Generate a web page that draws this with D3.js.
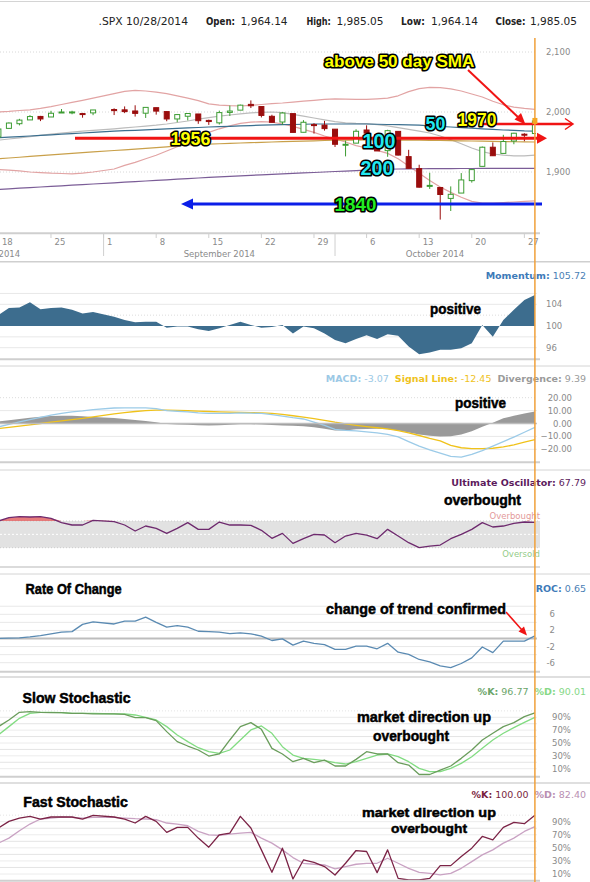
<!DOCTYPE html>
<html><head><meta charset="utf-8"><title>SPX</title>
<script src="https://cdn.jsdelivr.net/npm/d3@7/dist/d3.min.js"></script>
<style>html,body{margin:0;padding:0;background:#fff;}svg{display:block;} text{white-space:pre;}</style>
</head><body>
<svg id="chart" width="590" height="882"></svg>
<script>
// ---------------- DATA ----------------
const days = [
"2014-08-18","2014-08-19","2014-08-20","2014-08-21","2014-08-22",
"2014-08-25","2014-08-26","2014-08-27","2014-08-28","2014-08-29",
"2014-09-02","2014-09-03","2014-09-04","2014-09-05",
"2014-09-08","2014-09-09","2014-09-10","2014-09-11","2014-09-12",
"2014-09-15","2014-09-16","2014-09-17","2014-09-18","2014-09-19",
"2014-09-22","2014-09-23","2014-09-24","2014-09-25","2014-09-26",
"2014-09-29","2014-09-30","2014-10-01","2014-10-02","2014-10-03",
"2014-10-06","2014-10-07","2014-10-08","2014-10-09","2014-10-10",
"2014-10-13","2014-10-14","2014-10-15","2014-10-16","2014-10-17",
"2014-10-20","2014-10-21","2014-10-22","2014-10-23","2014-10-24",
"2014-10-27","2014-10-28"];
const open  = [1958.4,1972.7,1980.5,1986.8,1992.6,1991.7,1998.6,2000.0,1997.4,1998.5,
 2004.1,2003.6,2001.7,1998.0,2007.2,2000.7,1988.4,1992.9,1996.7,1986.0,
 1981.9,1999.3,2003.1,2012.7,2009.1,1992.8,1983.3,1997.3,1966.2,1979.0,
 1978.2,1971.4,1945.8,1948.1,1970.0,1962.4,1935.6,1967.7,1925.6,1905.7,
 1877.1,1874.2,1856.0,1864.9,1885.6,1909.4,1941.3,1931.0,1951.6,1963.0,1964.1];
const high  = [1972.0,1982.6,1988.6,1994.8,1993.5,2002.0,2005.0,2002.1,1998.6,2003.4,
 2006.1,2009.3,2011.2,2007.7,2007.2,2001.0,1996.7,1997.7,1996.7,1987.2,
 2002.3,2010.7,2012.3,2019.3,2009.1,1995.4,1999.8,1997.3,1986.4,1981.3,
 1985.2,1971.4,1952.3,1971.2,1977.8,1962.4,1970.4,1967.7,1937.0,1912.1,
 1898.7,1874.2,1876.0,1898.2,1905.0,1942.5,1949.3,1962.0,1965.3,1964.6,1985.1];
const low   = [1958.4,1972.7,1977.7,1986.8,1984.8,1991.7,1998.6,1996.2,1990.5,1994.7,
 1994.9,1998.1,1992.4,1990.1,1995.6,1984.6,1983.0,1985.9,1980.3,1978.5,
 1979.1,1993.3,2003.1,2006.6,1991.0,1982.8,1978.6,1966.0,1966.2,1964.0,
 1969.0,1941.7,1926.0,1948.1,1958.4,1935.1,1925.3,1927.6,1906.1,1874.1,
 1871.8,1820.7,1835.0,1864.9,1882.3,1909.4,1926.8,1931.0,1946.3,1951.4,1964.1];
const close = [1971.7,1981.6,1986.5,1992.4,1988.4,1997.9,2000.0,2000.1,1996.7,2003.4,
 2002.3,2000.7,1997.7,2007.7,2001.5,1988.4,1995.7,1997.5,1985.5,1984.1,
 1999.0,2001.6,2011.4,2010.4,1994.3,1982.8,1998.3,1966.0,1982.9,1977.8,
 1972.3,1946.2,1946.2,1967.9,1964.8,1935.1,1968.9,1928.2,1906.1,1874.7,
 1877.7,1862.5,1862.8,1886.8,1904.0,1941.3,1927.1,1950.8,1964.6,1961.6,1985.1];

const upperBand  = [2000,2001,2002.5,2003.5,2006,2009,2012.5,2016,2019.5,2023,
 2030.5,2034.5,2036,2035,2033,2030.5,2027,2023,2019,2013.5,
 2011.5,2010.5,2010,2011,2012.5,2014,2015,2016.5,2018,2019.5,
 2021,2022,2021.5,2021,2021,2022,2023,2027,2034,2039,
 2041,2040.5,2038.5,2035,2030,2025,2018,2012,2008,2006,2004.5];
const middleBand = [1953,1955,1957,1959,1961,1963,1965,1966.5,1968,1969.5,
 1972,1973.5,1975,1976.5,1978,1980,1982.5,1985,1988,1990.5,
 1993,1995,1997,1998.5,1999.5,2000,1999,1996,1993,1990,
 1987,1984,1982,1981,1980.5,1979,1977,1974,1971,1968,
 1965,1960,1954,1947,1940,1934,1930,1928,1927,1927,1928];
const lowerBand  = [1904,1903,1902,1900,1899,1898,1897.5,1897,1898,1900,
 1905,1911,1916,1922,1928,1935,1942,1950,1958,1966,
 1972,1977,1981,1983,1984,1983,1980,1976,1971,1966,
 1960,1955,1950,1944,1940,1936,1931,1922,1910,1898,
 1886,1875,1866,1858,1851,1848,1848,1849,1850,1851,1852];
const sma50  = [1957,1958,1959,1960,1961,1962,1963,1964,1965,1966,
 1968,1968.8,1969.5,1970.2,1971,1971.8,1972.6,1973.4,1974.2,1975,
 1975.6,1976.2,1976.8,1977.4,1978,1978.4,1978.8,1979.2,1979.6,1980,
 1980,1980,1980,1980,1980,1979.6,1979.2,1978.8,1978.4,1978,
 1977,1976,1975,1974,1973,1972,1971,1970,1969.5,1968.5,1968];
const sma100 = [1922,1923.3,1924.6,1925.9,1927.2,1928.5,1929.8,1931,1932.3,1933.5,
 1935.8,1937,1938.2,1939.3,1940.5,1942,1943.5,1945,1945.8,1946.5,
 1947.1,1947.7,1948.3,1948.9,1949.5,1950,1950.5,1951,1951.5,1952,
 1952.5,1953,1953,1953.2,1953.3,1953.3,1953.2,1953,1953,1953,
 1952.8,1952.5,1952.2,1952,1951.7,1951.4,1951,1950.7,1950.4,1950.2,1950];
const sma200 = [1871,1872,1873,1874,1875,1876,1877,1878,1879,1880,
 1882,1883,1884,1885,1886,1887,1888,1889,1890,1891,
 1892,1892.8,1893.6,1894.4,1895.2,1896,1896.8,1897.6,1898.4,1899.2,
 1900,1900.8,1901.6,1902.4,1903.2,1904,1904.6,1905,1905.2,1905.4,
 1905.5,1905.6,1905.7,1905.8,1905.8,1905.9,1905.9,1906,1906,1906,1906];

const momentum = [102.0,103.3,103.4,104.4,103.1,103.3,103.4,103.0,102.3,102.6,
 101.7,101.1,100.7,100.8,100.8,99.7,99.9,99.9,99.4,99.1,
 99.6,100.2,100.8,100.2,99.7,99.8,100.2,98.6,99.9,99.6,
 98.6,97.4,96.8,97.6,98.3,97.6,98.5,98.2,96.2,94.8,
 95.1,95.6,95.6,95.9,96.8,100.2,98.0,101.1,103.0,104.8,105.72];
const macd = [-2.6,-0.6,1.3,3.0,4.7,6.5,7.8,9.0,9.8,10.8,
 12.0,12.1,12.1,12.1,11.5,10.0,9.5,9.0,8.2,7.8,
 7.8,7.9,8.3,8.0,7.8,6.8,5.7,4.5,3.5,1.0,
 -1.5,-4.5,-5.3,-5.7,-6.5,-7.2,-8.5,-10.3,-14.0,-17.5,
 -20.5,-23.0,-25.5,-26.0,-24.0,-21.0,-17.5,-14.0,-10.5,-6.8,-3.07];
const signalLine = [-3.9,-3.0,-2.0,-1.0,0.0,1.0,2.0,3.0,4.0,5.2,
 7.5,8.5,9.3,10.0,10.3,10.3,10.2,9.9,9.6,9.3,
 9.0,8.8,8.6,8.4,8.3,7.8,7.0,6.0,5.0,3.8,
 2.5,1.0,-0.3,-1.4,-2.4,-3.3,-4.2,-5.5,-7.2,-9.3,
 -11.5,-13.5,-17.0,-18.8,-19.4,-19.4,-19.2,-18.2,-16.5,-14.5,-12.45];
const divergence = [1.5,2.5,3.5,4.5,5.3,5.8,6.0,6.0,5.6,5.0,
 4.2,3.4,2.7,2.0,1.0,-0.3,-0.7,-0.9,-1.4,-1.6,
 -1.4,-1.0,-0.5,-0.6,-0.8,-1.2,-1.5,-1.8,-2.2,-3.0,
 -4.0,-5.5,-5.5,-4.5,-4.2,-4.0,-4.5,-5.5,-7.0,-8.5,
 -9.5,-10.0,-9.8,-8.5,-6.0,-2.5,0.5,4.0,6.0,7.8,9.39];
const ultimate = [70,75,76.5,76,76.5,74,67.5,64,64,71,
 69,64,55,62.5,59,51.5,59,67.5,57.5,57.5,
 68.5,64,64,63.5,56,44,51.5,36.5,43.5,50,
 49,37.5,47.5,51.5,49,43.5,57.5,47.5,37.5,30,
 32.5,34,43.5,50,57.5,67.5,61,62.5,66.5,68.5,67.79];
const roc = [0,0.1,0.16,0.4,0.7,1.15,1.56,1.7,3.5,4.1,
 3.6,4.3,4.3,5.3,4.0,2.8,3.2,2.8,1.8,1.7,
 1.56,1.2,1.4,1.15,0.6,-0.5,-0.1,-1.65,-0.66,-1.2,
 -1.5,-2.7,-2.7,-1.9,-1.9,-2.55,-1.2,-3.4,-3.95,-5.2,
 -5.8,-6.8,-7.2,-6.2,-4.8,-2.1,-3.5,-0.66,-0.66,-0.66,0.65];
const slowK = [75.5,85.8,97.8,98.8,97.8,97.3,97.3,96.2,96.2,95.2,
 95.2,94.7,89.5,89.5,84.8,67.7,52.1,45.3,39.1,29.7,
 32.9,54.7,75.5,81.7,71.3,41.7,32.9,20.9,26.1,19.4,
 23.5,14.2,14.2,24.5,36.5,32.9,32.9,19.4,15.7,1.0,
 1.0,7.9,14.2,26.1,39.1,54.7,65.1,75.5,81.7,91.0,96.77];
const slowD = [62.5,75.5,88.4,96.2,97.8,97.8,97.3,96.2,96.2,96.2,
 95.2,95.2,93.6,90.0,85.8,75.5,62.5,52.1,42.7,36.5,
 33.9,39.1,54.7,70.3,76.5,65.1,44.3,31.3,26.1,24.5,
 22.5,19.4,17.3,20.9,26.1,31.3,32.9,28.7,20.9,10.5,
 5.3,5.3,10.5,18.3,28.7,41.7,54.7,65.1,73.9,82.2,90.01];
const fastK = [80.3,90.5,95.6,98.2,94.1,97.2,97.2,97.2,94.1,99.7,
 97.2,94.1,88.0,98.2,90.5,73.6,81.3,81.3,64.9,51.0,
 70.0,72.6,98.2,80.3,46.9,12.6,49.5,2.3,31.5,27.9,
 21.3,8.5,26.4,45.9,44.4,12.1,46.9,3.3,0.8,0.8,
 3.3,22.8,22.8,36.7,49.5,67.4,62.3,81.3,89.0,86.9,100];
const fastD = [57.2,64.9,76.2,86.4,94.1,95.6,97.2,96.7,95.6,96.7,
 96.7,95.6,94.6,94.1,93.1,88.0,86.4,83.8,75.1,70.0,
 69.0,71.0,72.6,73.6,64.9,57.2,46.9,35.1,26.4,24.9,
 23.8,17.7,21.3,24.9,26.4,26.4,34.1,26.4,18.7,12.6,
 11.0,8.5,11.0,18.7,29.0,39.2,46.9,57.2,64.9,75.1,82.4];

const priceTicks = [1900, 2000, 2100];
const momentumTicks = [96, 100, 104];
const macdTicks = [20, 10, 0, -10, -20];
const rocTicks = [6, 2, -2, -6];
const stochTicks = [90, 70, 50, 30, 10];
const dateTickDays = ["2014-08-18","2014-08-25","2014-09-01","2014-09-08","2014-09-15","2014-09-22","2014-09-29","2014-10-06","2014-10-13","2014-10-20","2014-10-27"];
const dateTickLabels = ["18","25","1","8","15","22","29","6","13","20","27"];
const monthNames = ["August 2014","September 2014","October 2014"];
const monthStarts = ["2014-08-01","2014-09-01","2014-10-01","2014-11-03"];
const headerLabels = ["Open:","High:","Low:","Close:"];
const headerValues = ["1,964.14","1,985.05","1,964.14","1,985.05"];

// ---------------- SETUP ----------------
const svg = d3.select("#chart");
const AX = "'DejaVu Sans', Verdana, sans-serif";
const BF = "'Liberation Sans', Arial, sans-serif";
const NF = "'Liberation Sans Narrow', 'Liberation Sans', Arial, sans-serif";
const t0 = new Date("2014-08-18T00:00:00Z");
const isWk = t => t.getUTCDay() % 6 !== 0;
function wdIndex(s){ const d = new Date(s + "T00:00:00Z");
  return d >= t0 ? d3.utcDay.range(t0, d).filter(isWk).length : -d3.utcDay.range(d, t0).filter(isWk).length; }
const di = days.map(wdIndex);
const xs = d3.scaleLinear().domain([0, 51]).range([-1.6, 534.9]);
const X = i => xs(di[i]);
const xEnd = xs(d3.max(di));
const PR = 540;

svg.append("defs").append("clipPath").attr("id","clip").append("rect")
  .attr("x",0).attr("y",0).attr("width",xEnd+1).attr("height",882);

function hl(y, x1, x2, stroke, w, dash){
  svg.append("line").attr("x1",x1).attr("x2",x2).attr("y1",y).attr("y2",y)
    .attr("stroke",stroke).attr("stroke-width",w).attr("stroke-dasharray",dash||null);
}
function ytext(txt, x, y, anchor){
  svg.append("text").attr("x",x).attr("y",y+3).attr("text-anchor",anchor||"start")
    .attr("font-family",AX).attr("font-size",8.5).attr("fill","#8a8a8a").text(txt);
}
function series(g, vals, ys, color, w){
  g.append("path").datum(vals)
    .attr("d", d3.line().x((d,i)=>X(i)).y(d=>ys(d)))
    .attr("fill","none").attr("stroke",color).attr("stroke-width",w||1.2).attr("stroke-linejoin","round");
}
function title(y, parts){
  const t = svg.append("text").attr("x",586).attr("y",y).attr("text-anchor","end")
    .attr("font-family",AX).attr("font-size",9.5);
  parts.forEach(p => t.append("tspan").attr("font-weight",p[2]?"bold":"normal").attr("fill",p[1]).text(p[0]));
}
function label(txt, x, y, size, len){
  svg.append("text").attr("x",x).attr("y",y).attr("font-family",NF).attr("font-weight","bold")
    .attr("font-size",size).attr("fill","#000").attr("stroke","#000").attr("stroke-width",0.5)
    .attr("textLength",len).attr("lengthAdjust","spacingAndGlyphs").text(txt);
}
function outlined(txt, x, y, size, fill, len){
  svg.append("text").attr("x",x).attr("y",y).attr("font-family",BF).attr("font-weight","bold")
    .attr("font-size",size).attr("fill",fill).attr("stroke","#000").attr("stroke-width",3.2)
    .attr("stroke-linejoin","round").attr("paint-order","stroke")
    .attr("textLength",len).attr("lengthAdjust","spacingAndGlyphs").text(txt);
}
function clipG(){ return svg.append("g").attr("clip-path","url(#clip)"); }

// ---------------- HEADER ----------------
hl(1.5, 0, 590, "#d4d4d4", 1);
const hx = [[206,29,240.6],[306.4,24.4,336.5],[401,23.8,431],[495.5,30,530]];
svg.append("text").attr("x",98.5).attr("y",24.5).attr("font-family",AX).attr("font-size",10.5)
  .attr("fill","#222").attr("textLength",89.5).attr("lengthAdjust","spacingAndGlyphs").text(".SPX 10/28/2014");
headerLabels.forEach((l,k)=>{
  svg.append("text").attr("x",hx[k][0]).attr("y",24.5).attr("font-family",AX).attr("font-size",10.5).attr("font-weight","bold")
    .attr("fill","#222").attr("textLength",hx[k][1]).attr("lengthAdjust","spacingAndGlyphs").text(l);
  svg.append("text").attr("x",hx[k][2]).attr("y",24.5).attr("font-family",AX).attr("font-size",10.5)
    .attr("fill","#222").attr("textLength",47).attr("lengthAdjust","spacingAndGlyphs").text(headerValues[k]);
});

// ---------------- MAIN PRICE PANEL ----------------
const yP = d3.scaleLinear().domain([1900, 2100]).range([172, 52]);
priceTicks.forEach(v => { hl(yP(v), 0, xEnd+2, "#d8d8d8", 1, "1,2"); ytext(d3.format(",")(v), 546, yP(v)); });
const gm = clipG();
series(gm, upperBand, yP, "#e2a4a4", 1.2);
series(gm, lowerBand, yP, "#e2a4a4", 1.2);
series(gm, middleBand, yP, "#bcbcbc", 1.2);
series(gm, sma200, yP, "#7b5d97", 1.2);
series(gm, sma100, yP, "#c9a04a", 1.2);
series(gm, sma50, yP, "#3b6f8f", 1.2);
days.forEach((d,i)=>{
  const up = close[i] >= open[i];
  const col = up ? "#3c9c32" : "#9a0d0d";
  gm.append("line").attr("x1",X(i)).attr("x2",X(i)).attr("y1",yP(high[i])).attr("y2",yP(low[i]))
    .attr("stroke",col).attr("stroke-width",1);
  const top = yP(Math.max(open[i],close[i])), bot = yP(Math.min(open[i],close[i]));
  gm.append("rect").attr("x",X(i)-2.5).attr("width",5).attr("y",top).attr("height",Math.max(1,bot-top))
    .attr("fill", up ? "#fff" : col).attr("stroke",col).attr("stroke-width",1);
});
hl(233.3, 0, PR, "#cfcfcf", 2);
dateTickDays.forEach((d,k)=>{
  const xx = xs(wdIndex(d));
  svg.append("line").attr("x1",xx).attr("x2",xx).attr("y1",233).attr("y2",238).attr("stroke","#cfcfcf");
  svg.append("text").attr("x",xx+3.5).attr("y",245).attr("font-family",AX).attr("font-size",8.5)
    .attr("fill","#8a8a8a").text(dateTickLabels[k]);
});
monthNames.forEach((m,k)=>{
  const a = xs(wdIndex(monthStarts[k])), b = Math.min(xs(wdIndex(monthStarts[k+1])), xEnd);
  if (k>0) svg.append("line").attr("x1",a).attr("x2",a).attr("y1",233).attr("y2",256).attr("stroke","#cfcfcf");
  svg.append("text").attr("x",(a+b)/2).attr("y",256.5).attr("text-anchor","middle").attr("font-family",AX)
    .attr("font-size",8.5).attr("fill","#8a8a8a").text(m);
});
hl(261.7, 0, 590, "#cfcfcf", 1.5);

const red = "#f01414";
hl(138.3, 75, 538, red, 3);
svg.append("path").attr("d","M537,132.8L547,138.3L537,143.8Z").attr("fill",red);
hl(124, 483, 572, red, 2.5);
svg.append("path").attr("d","M565,118.5L573,124L565,129.5").attr("fill","none").attr("stroke",red).attr("stroke-width",1.5);
svg.append("line").attr("x1",468).attr("y1",70).attr("x2",520).attr("y2",119).attr("stroke",red).attr("stroke-width",2);
svg.append("path").attr("d","M525.5,124.5L514.5,119.5L521,113Z").attr("fill",red);
hl(204, 190, 542, "#0b1ee8", 3);
svg.append("path").attr("d","M181,204L193,198.5L193,209.5Z").attr("fill","#0b1ee8");
outlined("above 50 day SMA", 324.6, 67, 16, "#ffff00", 149.8);
outlined("1970", 457.6, 125.7, 19, "#ffff00", 38.8);
outlined("50", 425.6, 130, 19, "#22e8f0", 19.8);
outlined("1956", 170.6, 145, 19, "#ffff00", 39.8);
outlined("100", 362.6, 148.4, 20, "#22e8f0", 32.8);
outlined("200", 360.6, 175, 20, "#22e8f0", 32.8);
outlined("1840", 334.6, 210.7, 19, "#22ee22", 41.8);

// ---------------- MOMENTUM ----------------
const yM = d3.scaleLinear().domain([96, 104]).range([347.7, 304.3]);
[106,104,98,96].forEach(v=>hl(yM(v),0,xEnd+2,"#e8e8e8",1));
hl(yM(102),0,xEnd+2,"#dcdcdc",1,"1,2");
momentumTicks.forEach(v=>ytext(String(v),546,yM(v)));
const gmo = clipG();
gmo.append("path").datum(momentum)
  .attr("d", d3.area().x((d,i)=>X(i)).y0(yM(100)).y1(d=>yM(d)))
  .attr("fill","#3d6d8e");
hl(359.3, 0, PR, "#cfcfcf", 2);
hl(366, 0, 590, "#d4d4d4", 1);
title(278.5, [["Momentum:","#3d7ab8",true],[" 105.72","#4a80b5"]]);
label("positive", 430, 313.5, 15, 51);

// ---------------- MACD ----------------
const yD = d3.scaleLinear().domain([-20, 20]).range([449.3, 397.7]);
hl(yD(20),0,xEnd+2,"#dcdcdc",1,"1,2");
[10,-10,-20].forEach(v=>hl(yD(v),0,xEnd+2,"#e8e8e8",1));
macdTicks.forEach(v=>ytext(d3.format(".2f")(v),572,yD(v),"end"));
const gd = clipG();
gd.append("path").datum(divergence)
  .attr("d", d3.area().x((d,i)=>X(i)).y0(yD(0)).y1(d=>yD(d)))
  .attr("fill","#8f8f8f").attr("opacity",0.9);
hl(yD(0),0,xEnd+2,"#bdbdbd",1.5);
series(gd, signalLine, yD, "#f0c21a", 1.3);
series(gd, macd, yD, "#9ccbe8", 1.3);
hl(462.3, 0, PR, "#cfcfcf", 2);
hl(470, 0, 590, "#d4d4d4", 1);
title(381.5, [["MACD:","#9cc9e6",true],[" -3.07  ","#9cc9e6"],["Signal Line:","#efc21c",true],[" -12.45  ","#efc21c"],["Divergence:","#9a9a9a",true],[" 9.39","#9a9a9a"]]);
label("positive", 455, 407.5, 15, 51);

// ---------------- ULTIMATE OSCILLATOR ----------------
const yU = d3.scaleLinear().domain([30, 70]).range([547.7, 521]);
svg.append("rect").attr("x",0).attr("y",yU(70)).attr("width",PR).attr("height",yU(30)-yU(70)).attr("fill","#e2e2e2");
hl(yU(70),0,PR,"#cccccc",1,"1,2");
hl(yU(30),0,PR,"#cccccc",1,"1,2");
hl(yU(50),0,PR,"#ffffff",1,"2,2");
const gu = clipG();
gu.append("path").datum(ultimate)
  .attr("d", d3.area().x((d,i)=>X(i)).y0(yU(70)).y1(d=>yU(Math.max(d,70))))
  .attr("fill","#e05a5a").attr("opacity",0.8);
gu.append("path").datum(ultimate)
  .attr("d", d3.area().x((d,i)=>X(i)).y0(yU(30)).y1(d=>yU(Math.min(d,30))))
  .attr("fill","#5cc05c").attr("opacity",0.8);
series(gu, ultimate, yU, "#6e2a6e", 1.3);
svg.append("text").attr("x",PR).attr("y",518.5).attr("text-anchor","end").attr("font-family",AX).attr("font-size",8.5).attr("fill","#e39a9a").text("Overbought");
svg.append("text").attr("x",PR).attr("y",557).attr("text-anchor","end").attr("font-family",AX).attr("font-size",8.5).attr("fill","#94cc88").text("Oversold");
hl(567, 0, PR, "#cfcfcf", 1.5);
hl(574, 0, 590, "#d4d4d4", 1);
title(486, [["Ultimate Oscillator:","#5c1a5c",true],[" 67.79","#5c1a5c"]]);
label("overbought", 444, 505, 15, 77);

// ---------------- ROC ----------------
const yR = d3.scaleLinear().domain([-6, 6]).range([662.7, 614.3]);
[8,6,4,2,-2,-4,-6].forEach(v=>hl(yR(v),0,xEnd+2,"#e8e8e8",1));
rocTicks.forEach(v=>ytext(String(v),555,yR(v),"end"));
hl(yR(0),0,xEnd+2,"#bdbdbd",2);
const gr = clipG();
series(gr, roc, yR, "#5a8ab2", 1.3);
hl(671.7, 0, PR, "#cfcfcf", 2);
hl(677, 0, 590, "#d4d4d4", 1.5);
title(591.5, [["ROC:","#3d7ab8",true],[" 0.65","#4a80b5"]]);
label("Rate Of Change", 25.6, 594, 15, 96);
label("change of trend confirmed", 326, 613.5, 15, 180);
svg.append("line").attr("x1",506).attr("y1",612).attr("x2",522).attr("y2",630).attr("stroke",red).attr("stroke-width",1.5);
svg.append("path").attr("d","M527,635.5L518.5,631.5L524,626.5Z").attr("fill",red);

// ---------------- SLOW STOCHASTIC ----------------
const yS = d3.scaleLinear().domain([10, 90]).range([768.7, 717.3]);
d3.range(10,101,10).forEach(v=>hl(yS(v),0,xEnd+2, v%20===0 ? "#e4e4e4" : "#ececec",1, v===100?"1,2":null));
stochTicks.forEach(v=>ytext(v+"%",552,yS(v)));
const gs = clipG();
series(gs, slowD, yS, "#82dc82", 1.3);
series(gs, slowK, yS, "#6a9d5c", 1.3);
hl(776.7, 0, PR, "#cfcfcf", 2);
hl(783, 0, 590, "#d4d4d4", 1.5);
title(695, [["%K:","#6aa56a",true],[" 96.77  ","#6aa56a"],["%D:","#86d886",true],[" 90.01","#86d886"]]);
label("Slow Stochastic", 22.6, 703, 15, 108);
label("market direction up", 357, 722, 15, 134);
label("overbought", 373, 741, 15, 76);

// ---------------- FAST STOCHASTIC ----------------
const yF = d3.scaleLinear().domain([10, 90]).range([874, 821.7]);
d3.range(10,101,10).forEach(v=>hl(yF(v),0,xEnd+2, v%20===0 ? "#e4e4e4" : "#ececec",1, v===100?"1,2":null));
stochTicks.forEach(v=>ytext(v+"%",552,yF(v)));
const gf = clipG();
series(gf, fastD, yF, "#c9a2c3", 1.3);
series(gf, fastK, yF, "#7b2346", 1.3);
hl(880.7, 0, PR, "#cfcfcf", 2);
title(798, [["%K:","#7a1f3d",true],[" 100.00  ","#7a1f3d"],["%D:","#b98fb2",true],[" 82.40","#b98fb2"]]);
label("Fast Stochastic", 23.3, 806.5, 15, 104.5);
label("market direction up", 362, 816.5, 13.5, 134);
label("overbought", 391, 832.5, 13.5, 76);

// ---------------- CURSOR LINE ----------------
svg.append("line").attr("x1",xEnd).attr("x2",xEnd).attr("y1",38).attr("y2",882)
  .attr("stroke","#f0a03a").attr("stroke-width",1.5);
svg.append("rect").attr("x",xEnd-2.5).attr("y",yP(close[close.length-1])-3).attr("width",5).attr("height",6).attr("fill","#f5a623");
</script>
</body></html>
